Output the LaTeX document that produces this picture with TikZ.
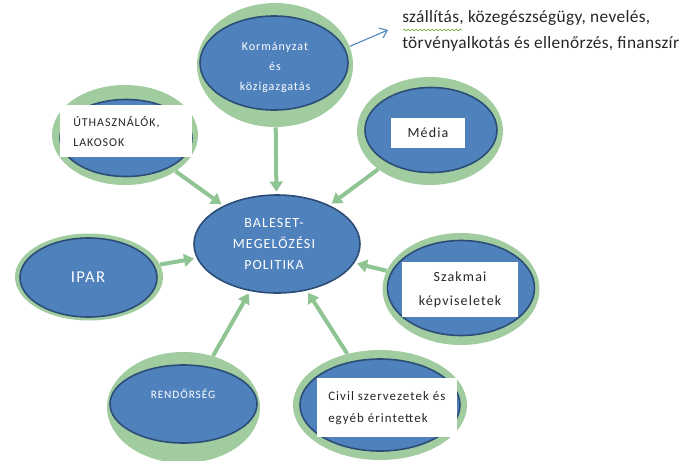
\documentclass[tikz,border=0pt]{standalone}
\usepackage{fontspec}
\setmainfont{Carlito}
\newfontfamily\spc[LetterSpace=8]{Carlito}
\newfontfamily\topf[LetterSpace=2]{Carlito}
\usetikzlibrary{shapes.geometric,arrows.meta,decorations.pathmorphing}
\definecolor{ringg}{RGB}{160,204,160}
\definecolor{arrg}{RGB}{143,196,147}
\definecolor{bfill}{RGB}{79,129,189}
\definecolor{bdraw}{RGB}{44,77,117}
\definecolor{ltblue}{RGB}{79,129,189}
\definecolor{spell}{RGB}{110,170,60}
\begin{document}
\begin{tikzpicture}[x=0.75pt,y=-0.75pt,
 ring/.style 2 args={ellipse,inner sep=0,minimum width=#1*0.75pt,minimum height=#2*0.75pt,fill=ringg},
 blob/.style 2 args={ellipse,inner sep=0,minimum width=#1*0.75pt,minimum height=#2*0.75pt,fill=bfill,draw=bdraw,line width=1.2pt},
 wbox/.style 2 args={rectangle,inner sep=0,minimum width=#1*0.75pt,minimum height=#2*0.75pt,fill=white},
 wlab/.style={text=white,align=center,inner sep=0},
 dlab/.style={text=black!85,inner sep=0},
 feed/.style={draw=arrg,line width=3pt,-{Triangle[width=9.5pt,length=7.5pt]},shorten >=2pt},
]
\useasboundingbox (0,0) rectangle (697,461);
% rings and ellipses
\node[ring={156}{124}] (k) at (275,65) {};
\node[blob={148}{94}] (kb) at (274,63) {};
\node[ring={146}{108}] (m) at (430,131) {};
\node[blob={132}{85}] (mb) at (431,130) {};
\node[ring={146}{100}] (u) at (125,135) {};
\node[blob={132}{77}] (ub) at (126,138) {};
\node[ring={148}{87}] (i) at (89,277) {};
\node[blob={137}{79}] (ib) at (88.5,277.5) {};
\node[ring={157}{112}] (s) at (461,289) {};
\node[blob={147}{95}] (sb) at (461,288) {};
\node[ring={153}{111}] (r) at (183.5,407.5) {};
\node[blob={147}{78}] (rb) at (183.5,404) {};
\node[ring={174}{110}] (v) at (380,405) {};
\node[blob={160}{92}] (vb) at (380,405) {};
\node[blob={166}{98}] (c) at (277,244) {};
% arrows
\draw[feed] (k) -- (c);
\draw[feed] (u) -- (c);
\draw[feed] (m) -- (c);
\draw[feed] (i) -- (c);
\draw[feed] (s) -- (c);
\draw[feed] (r) -- (c);
\draw[feed] (v) -- (c);
% white boxes
\node[wbox={74}{30}] (mw) at (428,133) {};
\node[wbox={132}{52}] (uw) at (126,131) {};
\node[wbox={116}{55}] (sw) at (460,289.5) {};
\node[wbox={140}{59}] (vw) at (387,407.5) {};
% labels
\node[wlab,font={\spc\fontsize{9}{15}\selectfont}] (kl) at (275,67) {Kormányzat\\és\\közigazgatás};
\node[wlab,font={\spc\fontsize{10.5}{16}\selectfont}] (cl) at (274,244) {BALESET-\\MEGELŐZÉSI\\POLITIKA};
\node[wlab,font={\spc\fontsize{12.5}{15}\selectfont}] (il) at (88,277) {IPAR};
\node[wlab,font={\spc\fontsize{8.5}{12}\selectfont}] (rl) at (183,394) {RENDŐRSÉG};
\node[dlab,font={\spc\fontsize{10.5}{14}\selectfont}] (ml) at (428,133) {Média};
\node[dlab,anchor=west,align=left,font={\spc\fontsize{9}{15}\selectfont}] (ul) at (73,132) {ÚTHASZNÁLÓK,\\LAKOSOK};
\node[dlab,align=center,font={\spc\fontsize{10.5}{18}\selectfont}] (sl) at (460,290) {Szakmai\\képviseletek};
\node[dlab,anchor=west,align=left,font={\spc\fontsize{9.7}{16}\selectfont}] (vl) at (328,408) {Civil szervezetek és\\egyéb érintettek};
% top text
\node[anchor=west,align=left,inner sep=0,text=black!85,font={\topf\fontsize{13}{19}\selectfont}] (t) at (402,31) {szállítás, közegészségügy, nevelés,\\törvényalkotás és ellenőrzés, finanszír};
\draw[spell,line width=0.5pt,decorate,decoration={snake,amplitude=0.6pt,segment length=3pt}] (403,30) -- (462,30);
\coordinate (tip) at (388,30);
\draw[ltblue,line width=0.8pt,-{Straight Barb[length=5pt,width=8pt]}] (k.14) -- (tip);
\end{tikzpicture}
\end{document}
